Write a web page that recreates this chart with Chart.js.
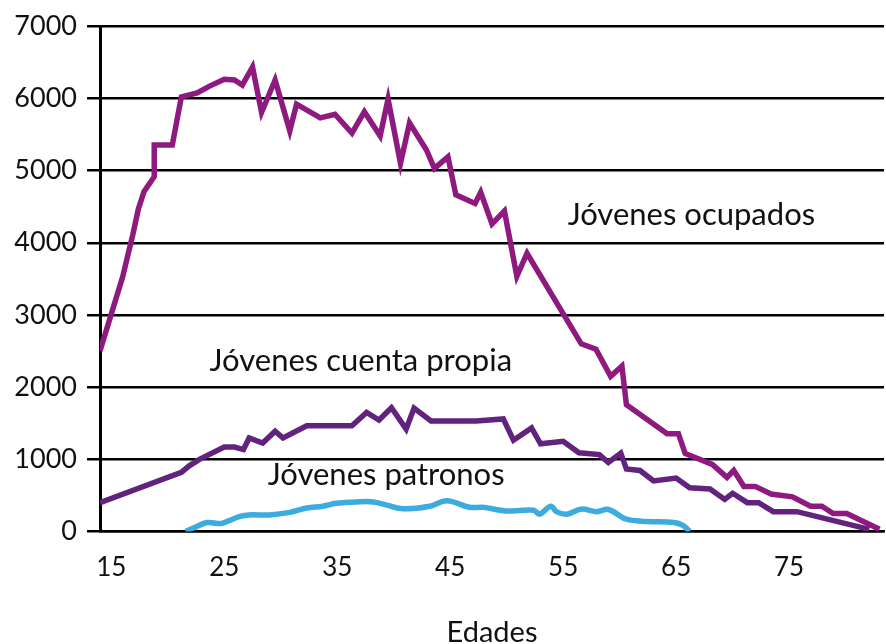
<!DOCTYPE html>
<html lang="es">
<head>
<meta charset="utf-8">
<title>Jóvenes por edad</title>
<script src="https://cdn.jsdelivr.net/npm/chart.js@4.4.1/dist/chart.umd.min.js"></script>
<style>
  html, body { margin: 0; padding: 0; background: #fff; }
  #wrap { width: 886px; height: 644px; position: relative; }
</style>
</head>
<body>
<div id="wrap"><canvas id="edadesChart"></canvas></div>
<script>
  // Edades (x) y valores
  const ocupadosEdad = [14, 16, 16.9, 17.4, 17.9, 18.8, 18.8, 20.4, 21.2, 22.6, 23.7, 25, 25.9, 26.6, 27.5, 28.3, 29.5, 30.8, 31.4, 33.5, 34.8, 36.3, 37.4, 38.8, 39.5, 40.6, 41.4, 42.9, 43.6, 44.8, 45.5, 47.2, 47.7, 48.7, 49.8, 50.9, 51.8, 56.6, 57.9, 59.2, 60.2, 60.6, 64.2, 65.2, 65.8, 68.2, 69.5, 70.1, 71, 72, 73.4, 75.3, 76.9, 77.9, 78.9, 80.1, 83];
  const ocupados = [2500, 3525, 4110, 4470, 4710, 4915, 5355, 5355, 6020, 6075, 6170, 6265, 6255, 6185, 6435, 5805, 6255, 5550, 5920, 5730, 5780, 5520, 5815, 5480, 5990, 5100, 5660, 5285, 5030, 5190, 4665, 4545, 4700, 4260, 4440, 3535, 3855, 2600, 2525, 2150, 2290, 1755, 1355, 1355, 1080, 930, 750, 845, 625, 625, 520, 480, 350, 350, 250, 250, 30];

  const cuentaPropiaEdad = [14, 21.2, 21.9, 22.8, 25, 25.9, 26.7, 27.2, 28.4, 29.5, 30.2, 32.3, 36.3, 37.6, 38.7, 39.8, 41.1, 41.8, 43.3, 47.3, 49.7, 50.6, 52.2, 53, 55, 56.4, 58.2, 59, 60.1, 60.6, 61.8, 63, 65, 66.2, 68, 69.3, 70, 71.3, 72.3, 73.6, 75.7, 82.1];
  const cuentaPropia = [400, 820, 910, 1000, 1170, 1170, 1135, 1295, 1225, 1390, 1295, 1465, 1465, 1650, 1545, 1715, 1420, 1710, 1530, 1530, 1560, 1265, 1435, 1215, 1250, 1090, 1065, 955, 1085, 865, 845, 700, 740, 605, 590, 445, 530, 400, 400, 275, 275, 30];

  const patronosEdad = [21.6, 22.4, 23.5, 24.7, 25.5, 26.4, 27.2, 29, 30.8, 32.3, 33.7, 34.9, 36.7, 38.2, 39.4, 40.8, 43.2, 44.7, 46.7, 47.9, 49.9, 52.4, 52.9, 53.9, 54.4, 55.3, 56.6, 58, 59, 60.6, 62.4, 64.8, 65.6, 66.2];
  const patronos = [0, 60, 125, 110, 155, 210, 230, 230, 265, 325, 350, 390, 410, 410, 365, 315, 350, 425, 335, 335, 285, 295, 240, 350, 275, 240, 310, 275, 305, 170, 140, 125, 85, 0];

  const edadTicks = [15, 25, 35, 45, 55, 65, 75];

  // Etiquetas de las series: [texto, edad, valor]
  const seriesLabels = [
    ["Jóvenes ocupados", 55.4, 4240],
    ["Jóvenes cuenta propia", 23.7, 2220],
    ["Jóvenes patronos", 28.85, 640],
  ];

  const FONT = "Lato, 'Open Sans', sans-serif";

  function toPoints(xs, ys) {
    return xs.map((x, i) => ({ x: x, y: ys[i] }));
  }

  // Dibuja los nombres de las series junto a sus lineas
  const seriesLabelPlugin = {
    id: "seriesLabels",
    afterDatasetsDraw(chart) {
      const { ctx, scales } = chart;
      ctx.save();
      ctx.font = "31px " + FONT;
      ctx.fillStyle = "#111";
      ctx.textAlign = "left";
      ctx.textBaseline = "alphabetic";
      seriesLabels.forEach(([text, edad, valor]) => {
        ctx.fillText(text, scales.x.getPixelForValue(edad), scales.y.getPixelForValue(valor));
      });
      ctx.restore();
    },
  };

  new Chart(document.getElementById("edadesChart"), {
    type: "line",
    data: {
      datasets: [
        {
          label: "Jóvenes ocupados",
          data: toPoints(ocupadosEdad, ocupados),
          borderColor: "#8e1a80",
          borderWidth: 5.5,
          pointRadius: 0,
          tension: 0,
        },
        {
          label: "Jóvenes cuenta propia",
          data: toPoints(cuentaPropiaEdad, cuentaPropia),
          borderColor: "#62237f",
          borderWidth: 5.5,
          pointRadius: 0,
          tension: 0,
        },
        {
          label: "Jóvenes patronos",
          data: toPoints(patronosEdad, patronos),
          borderColor: "#3cabdd",
          borderWidth: 5.5,
          pointRadius: 0,
          tension: 0.35,
        },
      ],
    },
    options: {
      responsive: true,
      maintainAspectRatio: false,
      animation: false,
      layout: {
        padding: { top: 22, right: 2, bottom: 0, left: 0 },
      },
      plugins: {
        legend: { display: false },
        tooltip: { enabled: false },
      },
      scales: {
        x: {
          type: "linear",
          min: 14,
          max: 83.4,
          afterBuildTicks: (scale) => {
            scale.ticks = edadTicks.map((v) => ({ value: v }));
          },
          afterFit: (scale) => {
            scale.height = 112.5;
          },
          grid: { display: false, drawTicks: false },
          border: { display: true, color: "#000", width: 2.5 },
          ticks: {
            color: "#111",
            padding: 21,
            maxRotation: 0,
            font: { family: FONT, size: 26 },
            callback: (value) => String(value),
          },
          title: {
            display: true,
            text: "Edades",
            color: "#111",
            padding: { top: 0, bottom: -6 },
            font: { family: FONT, size: 29 },
          },
        },
        y: {
          min: 0,
          max: 7000,
          afterFit: (scale) => {
            scale.width = 100;
          },
          ticks: {
            stepSize: 1000,
            color: "#111",
            padding: 10,
            font: { family: FONT, size: 27 },
            callback: (value) => String(value),
          },
          grid: {
            color: "#000",
            lineWidth: 2.5,
            tickLength: 13,
            tickColor: "#000",
          },
          border: { display: true, color: "#000", width: 3 },
        },
      },
    },
    plugins: [seriesLabelPlugin],
  });
</script>
</body>
</html>
